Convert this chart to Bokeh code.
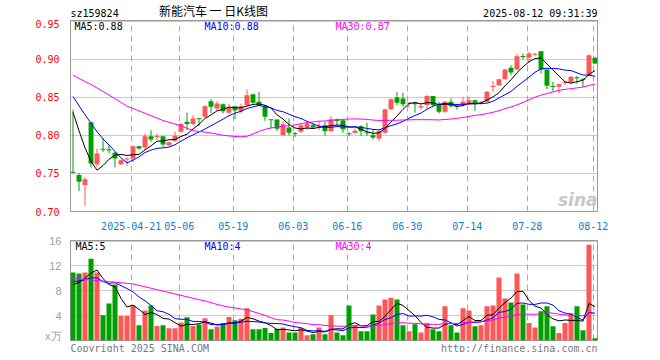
import numpy as np
import pandas as pd
from bokeh.plotting import figure
from bokeh.models import Range1d, FixedTicker, Label, ColumnDataSource
from bokeh.layouts import column
from bokeh.core.properties import value
from bokeh.embed import file_html
from bokeh.resources import INLINE

# ---------------- data ----------------
opens = [0.752, 0.748, 0.735, 0.8175, 0.7623, 0.7825, 0.7815, 0.7772, 0.7623, 0.7685,
         0.7697, 0.786, 0.7842, 0.799, 0.798, 0.799, 0.7873, 0.793, 0.8048, 0.818,
         0.815, 0.8225, 0.8246, 0.845, 0.8355, 0.8412, 0.8298, 0.8386, 0.832, 0.84,
         0.8544, 0.8443, 0.8386, 0.8212, 0.821, 0.8004, 0.8105, 0.8026, 0.8048, 0.8105,
         0.8136, 0.8110, 0.8136, 0.8057, 0.821, 0.8202, 0.8026, 0.8035, 0.8123, 0.8044,
         0.8004, 0.796, 0.8035, 0.8346, 0.85, 0.8487, 0.842, 0.8434, 0.8368, 0.84,
         0.8518, 0.84, 0.8311, 0.8443, 0.839, 0.84, 0.8421, 0.8465, 0.8421, 0.8443,
         0.864, 0.8662, 0.8741, 0.889, 0.8868, 0.9044, 0.9026, 0.9061, 0.911, 0.8868,
         0.8649, 0.864, 0.8689, 0.8697, 0.8763, 0.8746, 0.8794, 0.9022]
highs = [0.834, 0.751, 0.745, 0.8175, 0.7825, 0.797, 0.787, 0.7785, 0.7684, 0.771,
         0.787, 0.7865, 0.8026, 0.807, 0.8026, 0.7995, 0.792, 0.805, 0.8167, 0.83,
         0.8268, 0.8228, 0.84, 0.8478, 0.845, 0.842, 0.842, 0.839, 0.842, 0.8605,
         0.8548, 0.8575, 0.84, 0.8212, 0.8212, 0.819, 0.8224, 0.8048, 0.8158, 0.8167,
         0.815, 0.8189, 0.818, 0.8254, 0.8224, 0.821, 0.8048, 0.8092, 0.8136, 0.8167,
         0.8079, 0.8079, 0.8355, 0.8487, 0.8575, 0.856, 0.8438, 0.8438, 0.842, 0.8531,
         0.8518, 0.8443, 0.8456, 0.8487, 0.8412, 0.8509, 0.8509, 0.8474, 0.8452, 0.8583,
         0.8715, 0.8745, 0.8877, 0.8925, 0.907, 0.9079, 0.91, 0.9088, 0.9112, 0.887,
         0.8706, 0.868, 0.8715, 0.878, 0.878, 0.8749, 0.9066, 0.9026]
lows = [0.750, 0.727, 0.7075, 0.758, 0.758, 0.7785, 0.777, 0.758, 0.761, 0.7597,
        0.7654, 0.7816, 0.7807, 0.7917, 0.794, 0.785, 0.7864, 0.7917, 0.8035, 0.807,
        0.8136, 0.8123, 0.8237, 0.83, 0.8325, 0.829, 0.829, 0.8215, 0.829, 0.8386,
        0.842, 0.8386, 0.8193, 0.8092, 0.806, 0.80, 0.80, 0.7982, 0.8035, 0.807,
        0.8092, 0.807, 0.7995, 0.8048, 0.8136, 0.8035, 0.7992, 0.8026, 0.7995, 0.7995,
        0.7947, 0.793, 0.8026, 0.8333, 0.84, 0.8377, 0.8368, 0.83, 0.8342, 0.8355,
        0.8377, 0.829, 0.83, 0.8368, 0.8342, 0.8386, 0.84, 0.8325, 0.8408, 0.8434,
        0.8575, 0.8653, 0.8737, 0.8794, 0.886, 0.90, 0.8956, 0.9044, 0.8816, 0.861,
        0.8583, 0.8553, 0.8662, 0.8693, 0.8684, 0.864, 0.8785, 0.8939]
closes = [0.751, 0.739, 0.7425, 0.763, 0.7763, 0.7815, 0.7805, 0.7697, 0.7675, 0.7695,
          0.786, 0.783, 0.799, 0.7947, 0.7995, 0.788, 0.7912, 0.7996, 0.815, 0.815,
          0.8224, 0.8215, 0.8386, 0.8377, 0.842, 0.832, 0.8368, 0.8333, 0.8386, 0.853,
          0.843, 0.8395, 0.8246, 0.8203, 0.809, 0.8149, 0.8035, 0.8018, 0.8136, 0.8158,
          0.8105, 0.8119, 0.8057, 0.8215, 0.819, 0.8083, 0.8017, 0.8061, 0.8057, 0.8031,
          0.7974, 0.8057, 0.8342, 0.8478, 0.843, 0.8412, 0.8434, 0.8412, 0.8386, 0.8518,
          0.84, 0.8311, 0.8443, 0.8386, 0.8382, 0.8443, 0.8465, 0.8421, 0.843, 0.8575,
          0.8649, 0.8741, 0.8868, 0.8829, 0.9044, 0.9035, 0.9079, 0.9075, 0.8868, 0.8654,
          0.864, 0.8675, 0.8697, 0.8772, 0.8754, 0.8737, 0.9057, 0.8947]
volumes = [10.93, 10.77, 10.93, 13.17, 10.93, 4.05, 5.97, 9.01, 3.95, 3.95,
           5.65, 2.45, 4.85, 5.65, 2.35, 2.45, 1.97, 1.97, 2.88, 3.73,
           2.35, 2.56, 3.57, 1.8, 2.2, 2.8, 3.8, 3.25, 3.5, 5.2,
           1.8, 1.8, 2.0, 1.2, 1.9, 2.1, 1.3, 1.3, 2.0, 0.85,
           1.0, 2.1, 1.0, 4.05, 1.3, 0.85, 5.65, 2.45, 1.5, 1.5,
           4.2, 5.65, 6.6, 6.9, 6.6, 2.45, 1.5, 2.6, 1.3, 2.8,
           1.8, 1.5, 5.5, 2.45, 1.3, 5.2, 4.85, 2.3, 2.45, 5.5,
           5.65, 10.13, 6.77, 6.13, 10.77, 5.8, 2.8, 2.1, 4.7, 5.5,
           2.3, 1.2, 2.8, 4.4, 5.5, 1.65, 15.4, 0.37]
# estimated closes / volumes of the 29 sessions before the first visible one
# (only used so that the moving averages start where the picture shows them)
pre_close = [0.859, 0.863, 0.883, 0.914, 0.920, 0.918, 0.917, 0.915, 0.916, 0.879,
             0.876, 0.892, 0.891, 0.895, 0.884, 0.860, 0.869, 0.894, 0.905, 0.910,
             0.862, 0.860, 0.876, 0.886, 0.878, 0.860, 0.855, 0.852, 0.834]
pre_volume = [13.5, 13.7, 15.9, 13.7, 6.7, 8.7, 11.7, 6.7, 6.7, 8.3,
              9.4, 11.8, 12.5, 9.3, 9.4, 8.9, 8.9, 9.8, 10.7, 9.35,
              9.77, 8.93, 10.17, 10.93, 10.05, 9.1, 7.5, 9.0, 8.5]

date_tick_index = [10, 18, 27, 37, 46, 56, 66, 76, 87]
date_tick_labels = ["2025-04-21", "05-06", "05-19", "06-03", "06-16",
                    "06-30", "07-14", "07-28", "08-12"]
price_ticks = [0.70, 0.75, 0.80, 0.85, 0.90, 0.95]
price_tick_labels = ["0.70", "0.75", "0.80", "0.85", "0.90", "0.95"]
volume_ticks = [0, 4, 8, 12, 16]
volume_tick_labels = ["x万", "4", "8", "12", "16"]

code = "sz159824"
title_text = "新能汽车 一 日K线图"
time_text = "2025-08-12 09:31:39"
price_ma_labels = ["MA5:0.88", "MA10:0.88", "MA30:0.87"]
volume_ma_labels = ["MA5:5", "MA10:4", "MA30:4"]
left_footer = "Copyright 2025 SINA.COM"
right_footer = "http://finance.sina.com.cn"

# ---------------- styling ----------------
RED = "#ff5656"
GREEN = "#00a000"
MA_COLORS = ["#000000", "#0000ff", "#ff00ff"]
MONO = "DejaVu Sans Mono"
GRID_DASH = "6 4"
DOT = "1 1"
W = 637
LEFT, RIGHT = 70, 40          # panel borders (page pixels)
FRAME_L, FRAME_R = LEFT, W - RIGHT

n = len(closes)
xs = np.arange(n) + 0.3

def moving(pre, vals, w):
    s = pd.Series(list(pre) + list(vals)).rolling(w).mean()
    return s.iloc[len(pre):].to_numpy()

o = np.array(opens); c = np.array(closes)
up = c >= o
colors = [RED if u else GREEN for u in up]
top = np.maximum(o, c)
bot = np.minimum(o, c)
eps = 0.0013
thin = (top - bot) < eps
mid = (top + bot) / 2
top = np.where(thin, mid + eps / 2, top)
bot = np.where(thin, mid - eps / 2, bot)

src = ColumnDataSource(dict(x=xs, o=o, c=c, h=highs, l=lows, top=top, bot=bot,
                            v=volumes, color=colors,
                            ma5=moving(pre_close, closes, 5),
                            ma10=moving(pre_close, closes, 10),
                            ma30=moving(pre_close, closes, 30),
                            vma5=moving(pre_volume, volumes, 5),
                            vma10=moving(pre_volume, volumes, 10),
                            vma30=moving(pre_volume, volumes, 30)))

xr = Range1d(-0.12, 87.72)


def text_strip(height):
    """A plain strip for texts outside the panels; its frame is aligned with the
    panels' frames by the column layout, so x is given in page pixels."""
    f = figure(width=W, height=height, x_range=Range1d(FRAME_L, FRAME_R),
               y_range=Range1d(height, 0),
               toolbar_location=None, output_backend="svg",
               x_axis_location=None, y_axis_location=None,
               min_border_left=LEFT, min_border_right=RIGHT,
               min_border_top=0, min_border_bottom=0)
    f.grid.visible = False
    f.outline_line_color = None
    f.background_fill_color = "white"
    f.border_fill_color = "white"
    return f


def put(f, x, y, text, color="#000000", align="left", font=MONO, size="10px"):
    f.text(x=[x], y=[y], text=[text], text_color=color, text_align=align,
           text_baseline="middle", text_font=value(font), text_font_size=size)


# ---------------- header ----------------
head = text_strip(19)
put(head, 70, 13, code)
put(head, 213, 10, title_text, align="center", font="Noto Sans CJK SC", size="12px")
put(head, 597, 13, time_text, align="right")

# ---------------- price panel ----------------
p1 = figure(width=W, height=213, x_range=xr, y_range=Range1d(0.70, 0.9513),
            toolbar_location=None, output_backend="svg",
            min_border_left=LEFT, min_border_right=RIGHT, min_border_top=1, min_border_bottom=21)
p1.outline_line_color = "#999999"
p1.background_fill_color = "white"
p1.border_fill_color = "white"

p1.yaxis.ticker = FixedTicker(ticks=price_ticks)
p1.yaxis.major_label_overrides = {t: s for t, s in zip(price_ticks, price_tick_labels)}
p1.yaxis.axis_line_color = None
p1.yaxis.major_tick_line_color = None
p1.yaxis.minor_tick_line_color = None
p1.yaxis.major_label_standoff = 5
p1.yaxis.major_label_text_color = "#ff0000"
p1.yaxis.major_label_text_font = MONO
p1.yaxis.major_label_text_font_size = "10px"

p1.xaxis.ticker = FixedTicker(ticks=date_tick_index)
p1.xaxis.major_label_overrides = {t: s for t, s in zip(date_tick_index, date_tick_labels)}
p1.xaxis.axis_line_color = None
p1.xaxis.major_tick_line_color = None
p1.xaxis.minor_tick_line_color = None
p1.xaxis.major_label_standoff = 4
p1.xaxis.major_label_text_color = "#0a82d2"
p1.xaxis.major_label_text_font = MONO
p1.xaxis.major_label_text_font_size = "10px"

p1.xgrid.grid_line_color = "#aaaaaa"
p1.xgrid.grid_line_dash = GRID_DASH
p1.ygrid.grid_line_color = "#999999"
p1.ygrid.grid_line_dash = DOT

p1.segment(x0="x", y0="l", x1="x", y1="h", color="color", line_width=1, source=src)
p1.vbar(x="x", top="top", bottom="bot", width=0.82, fill_color="color",
        line_color=None, source=src)
for col, colr in zip(["ma5", "ma10", "ma30"], MA_COLORS):
    p1.line(x="x", y=col, color=colr, line_width=1, source=src)


def lab(p, x, y, text, color="#000000", align="left", font=MONO, size="10px", style="normal"):
    p.add_layout(Label(x=x, y=y, x_units="screen", y_units="screen", text=text,
                       text_color=color, text_align=align, text_baseline="middle",
                       text_font=font, text_font_size=size, text_font_style=style))


for xpos, t, colr in zip([4, 134, 265], price_ma_labels, MA_COLORS):
    lab(p1, xpos, 185, t, color=colr)
lab(p1, 527, 12, "sina", color="#c8c8c8", align="right", font="DejaVu Sans",
    size="17px", style="bold italic")

# ---------------- volume panel ----------------
p2 = figure(width=W, height=109, x_range=xr, y_range=Range1d(0, 16.1),
            toolbar_location=None, output_backend="svg", x_axis_location=None,
            min_border_left=LEFT, min_border_right=RIGHT, min_border_top=8, min_border_bottom=1)
p2.outline_line_color = "#999999"
p2.background_fill_color = "white"
p2.border_fill_color = "white"
p2.yaxis.ticker = FixedTicker(ticks=volume_ticks)
p2.yaxis.major_label_overrides = {t: s for t, s in zip(volume_ticks, volume_tick_labels)}
p2.yaxis.axis_line_color = None
p2.yaxis.major_tick_line_color = None
p2.yaxis.minor_tick_line_color = None
p2.yaxis.major_label_standoff = 3
p2.yaxis.major_label_text_color = "#a0a0a0"
p2.yaxis.major_label_text_font = "Liberation Sans"
p2.yaxis.major_label_text_font_size = "11px"
p2.xgrid.ticker = FixedTicker(ticks=date_tick_index)
p2.xgrid.grid_line_color = "#aaaaaa"
p2.xgrid.grid_line_dash = GRID_DASH
p2.ygrid.ticker = FixedTicker(ticks=volume_ticks[1:])
p2.ygrid.grid_line_color = "#999999"
p2.ygrid.grid_line_dash = DOT

p2.vbar(x="x", top="v", bottom=0, width=0.84, fill_color="color", line_color=None, source=src)
for col, colr in zip(["vma5", "vma10", "vma30"], MA_COLORS):
    p2.line(x="x", y=col, color=colr, line_width=1, source=src)

for xpos, t, colr in zip([5, 134, 265], volume_ma_labels, MA_COLORS):
    lab(p2, xpos, 94, t, color=colr)

# ---------------- footer ----------------
foot = text_strip(11)
put(foot, 70, 5.5, left_footer, color="#777777")
put(foot, 597, 5.5, right_footer, color="#777777", align="right")

layout = column(head, p1, p2, foot)
open("out.html", "w").write(file_html(layout, INLINE))
